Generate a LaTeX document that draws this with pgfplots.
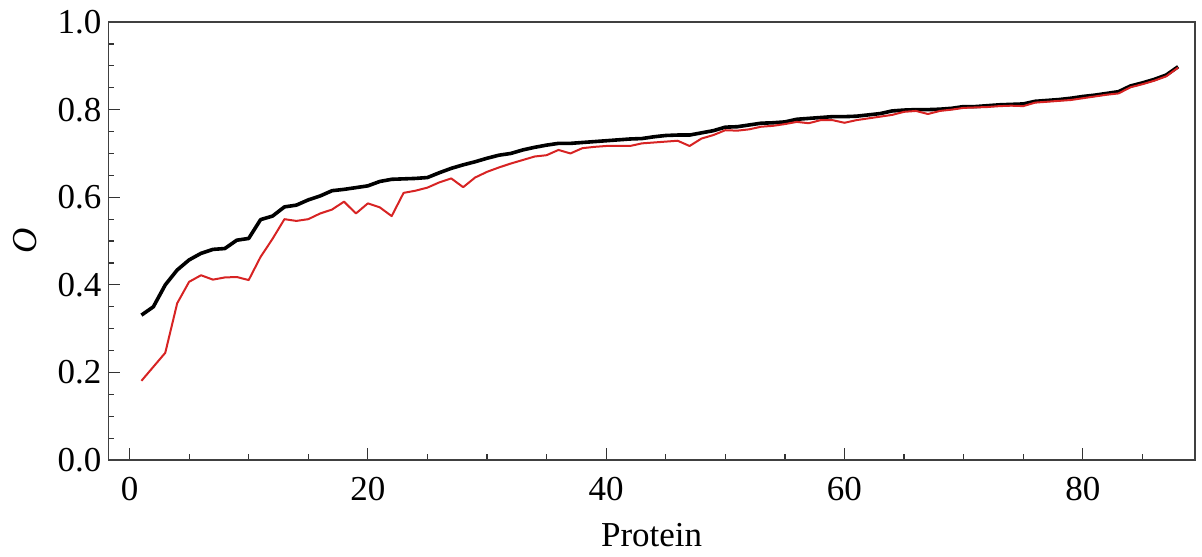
\documentclass[border=0pt]{standalone}
\usepackage{fontspec}
\setmainfont{Liberation Serif}
\usepackage{pgfplots}
\pgfplotsset{compat=1.18}

\definecolor{lred}{RGB}{215,35,35}

\pgfplotstableread{
x y
1 0.331
2 0.350
3 0.400
4 0.434
5 0.457
6 0.472
7 0.481
8 0.483
9 0.502
10 0.506
11 0.549
12 0.557
13 0.578
14 0.582
15 0.594
16 0.603
17 0.615
18 0.618
19 0.622
20 0.626
21 0.636
22 0.641
23 0.642
24 0.643
25 0.645
26 0.656
27 0.666
28 0.674
29 0.681
30 0.689
31 0.696
32 0.700
33 0.708
34 0.714
35 0.719
36 0.723
37 0.723
38 0.725
39 0.727
40 0.729
41 0.731
42 0.733
43 0.734
44 0.738
45 0.741
46 0.742
47 0.742
48 0.747
49 0.752
50 0.760
51 0.761
52 0.765
53 0.769
54 0.770
55 0.772
56 0.778
57 0.780
58 0.782
59 0.784
60 0.784
61 0.785
62 0.788
63 0.791
64 0.797
65 0.799
66 0.800
67 0.800
68 0.801
69 0.803
70 0.807
71 0.807
72 0.809
73 0.811
74 0.812
75 0.813
76 0.819
77 0.821
78 0.823
79 0.826
80 0.830
81 0.833
82 0.837
83 0.841
84 0.854
85 0.861
86 0.869
87 0.879
88 0.898
}\blackdata

\pgfplotstableread{
x y
1 0.181
2 0.213
3 0.245
4 0.358
5 0.407
6 0.422
7 0.412
8 0.417
9 0.418
10 0.411
11 0.464
12 0.505
13 0.550
14 0.546
15 0.550
16 0.563
17 0.572
18 0.590
19 0.563
20 0.586
21 0.577
22 0.557
23 0.610
24 0.615
25 0.622
26 0.634
27 0.643
28 0.623
29 0.645
30 0.658
31 0.668
32 0.677
33 0.685
34 0.693
35 0.696
36 0.708
37 0.700
38 0.712
39 0.715
40 0.717
41 0.717
42 0.717
43 0.723
44 0.725
45 0.727
46 0.729
47 0.717
48 0.734
49 0.742
50 0.753
51 0.752
52 0.755
53 0.761
54 0.763
55 0.767
56 0.772
57 0.769
58 0.776
59 0.776
60 0.770
61 0.776
62 0.780
63 0.784
64 0.788
65 0.795
66 0.797
67 0.790
68 0.797
69 0.800
70 0.804
71 0.805
72 0.806
73 0.808
74 0.809
75 0.808
76 0.816
77 0.818
78 0.820
79 0.822
80 0.826
81 0.830
82 0.834
83 0.837
84 0.851
85 0.858
86 0.866
87 0.876
88 0.896
}\reddata

\begin{document}
\begin{tikzpicture}
\begin{axis}[
  scale only axis,
  width=543pt,
  height=219pt,
  xmin=-1.77, xmax=89.4,
  ymin=0, ymax=1,
  xtick={0,20,40,60,80},
  minor xtick={5,10,15,25,30,35,45,50,55,65,70,75,85},
  ytick={0,0.2,0.4,0.6,0.8,1.0},
  minor ytick={0.05,0.1,0.15,0.25,0.3,0.35,0.45,0.5,0.55,0.65,0.7,0.75,0.85,0.9,0.95},
  yticklabel style={/pgf/number format/.cd,fixed,fixed zerofill,precision=1},
  /pgf/number format/assume math mode=true,
  tick pos=left,
  tick align=inside,
  major tick length=6pt,
  minor tick length=3pt,
  every tick/.style={black!80,line width=0.6pt},
  axis line style={black!75,line width=0.9pt},
  tick label style={font=\fontsize{17.5}{20}\selectfont},
  xticklabel style={yshift=-5pt},
  label style={font=\fontsize{17.5}{20}\selectfont},
  xlabel={Protein},
  ylabel={\textit{O}},
  xlabel style={at={(axis description cs:0.5,0)},anchor=center,yshift=-37.5pt},
  ylabel style={at={(axis description cs:0,0.5)},anchor=center,yshift=41.7pt},
]
\addplot[black,line width=1.8pt,line join=round] table[x=x,y=y] {\blackdata};
\addplot[lred,line width=1.0pt,line join=round] table[x=x,y=y] {\reddata};
\end{axis}
\pgfresetboundingbox
\path[use as bounding box] ([xshift=-54.2pt,yshift=-48pt]current axis.south west) rectangle ([xshift=3.6pt,yshift=11pt]current axis.north east);
\end{tikzpicture}
\end{document}
